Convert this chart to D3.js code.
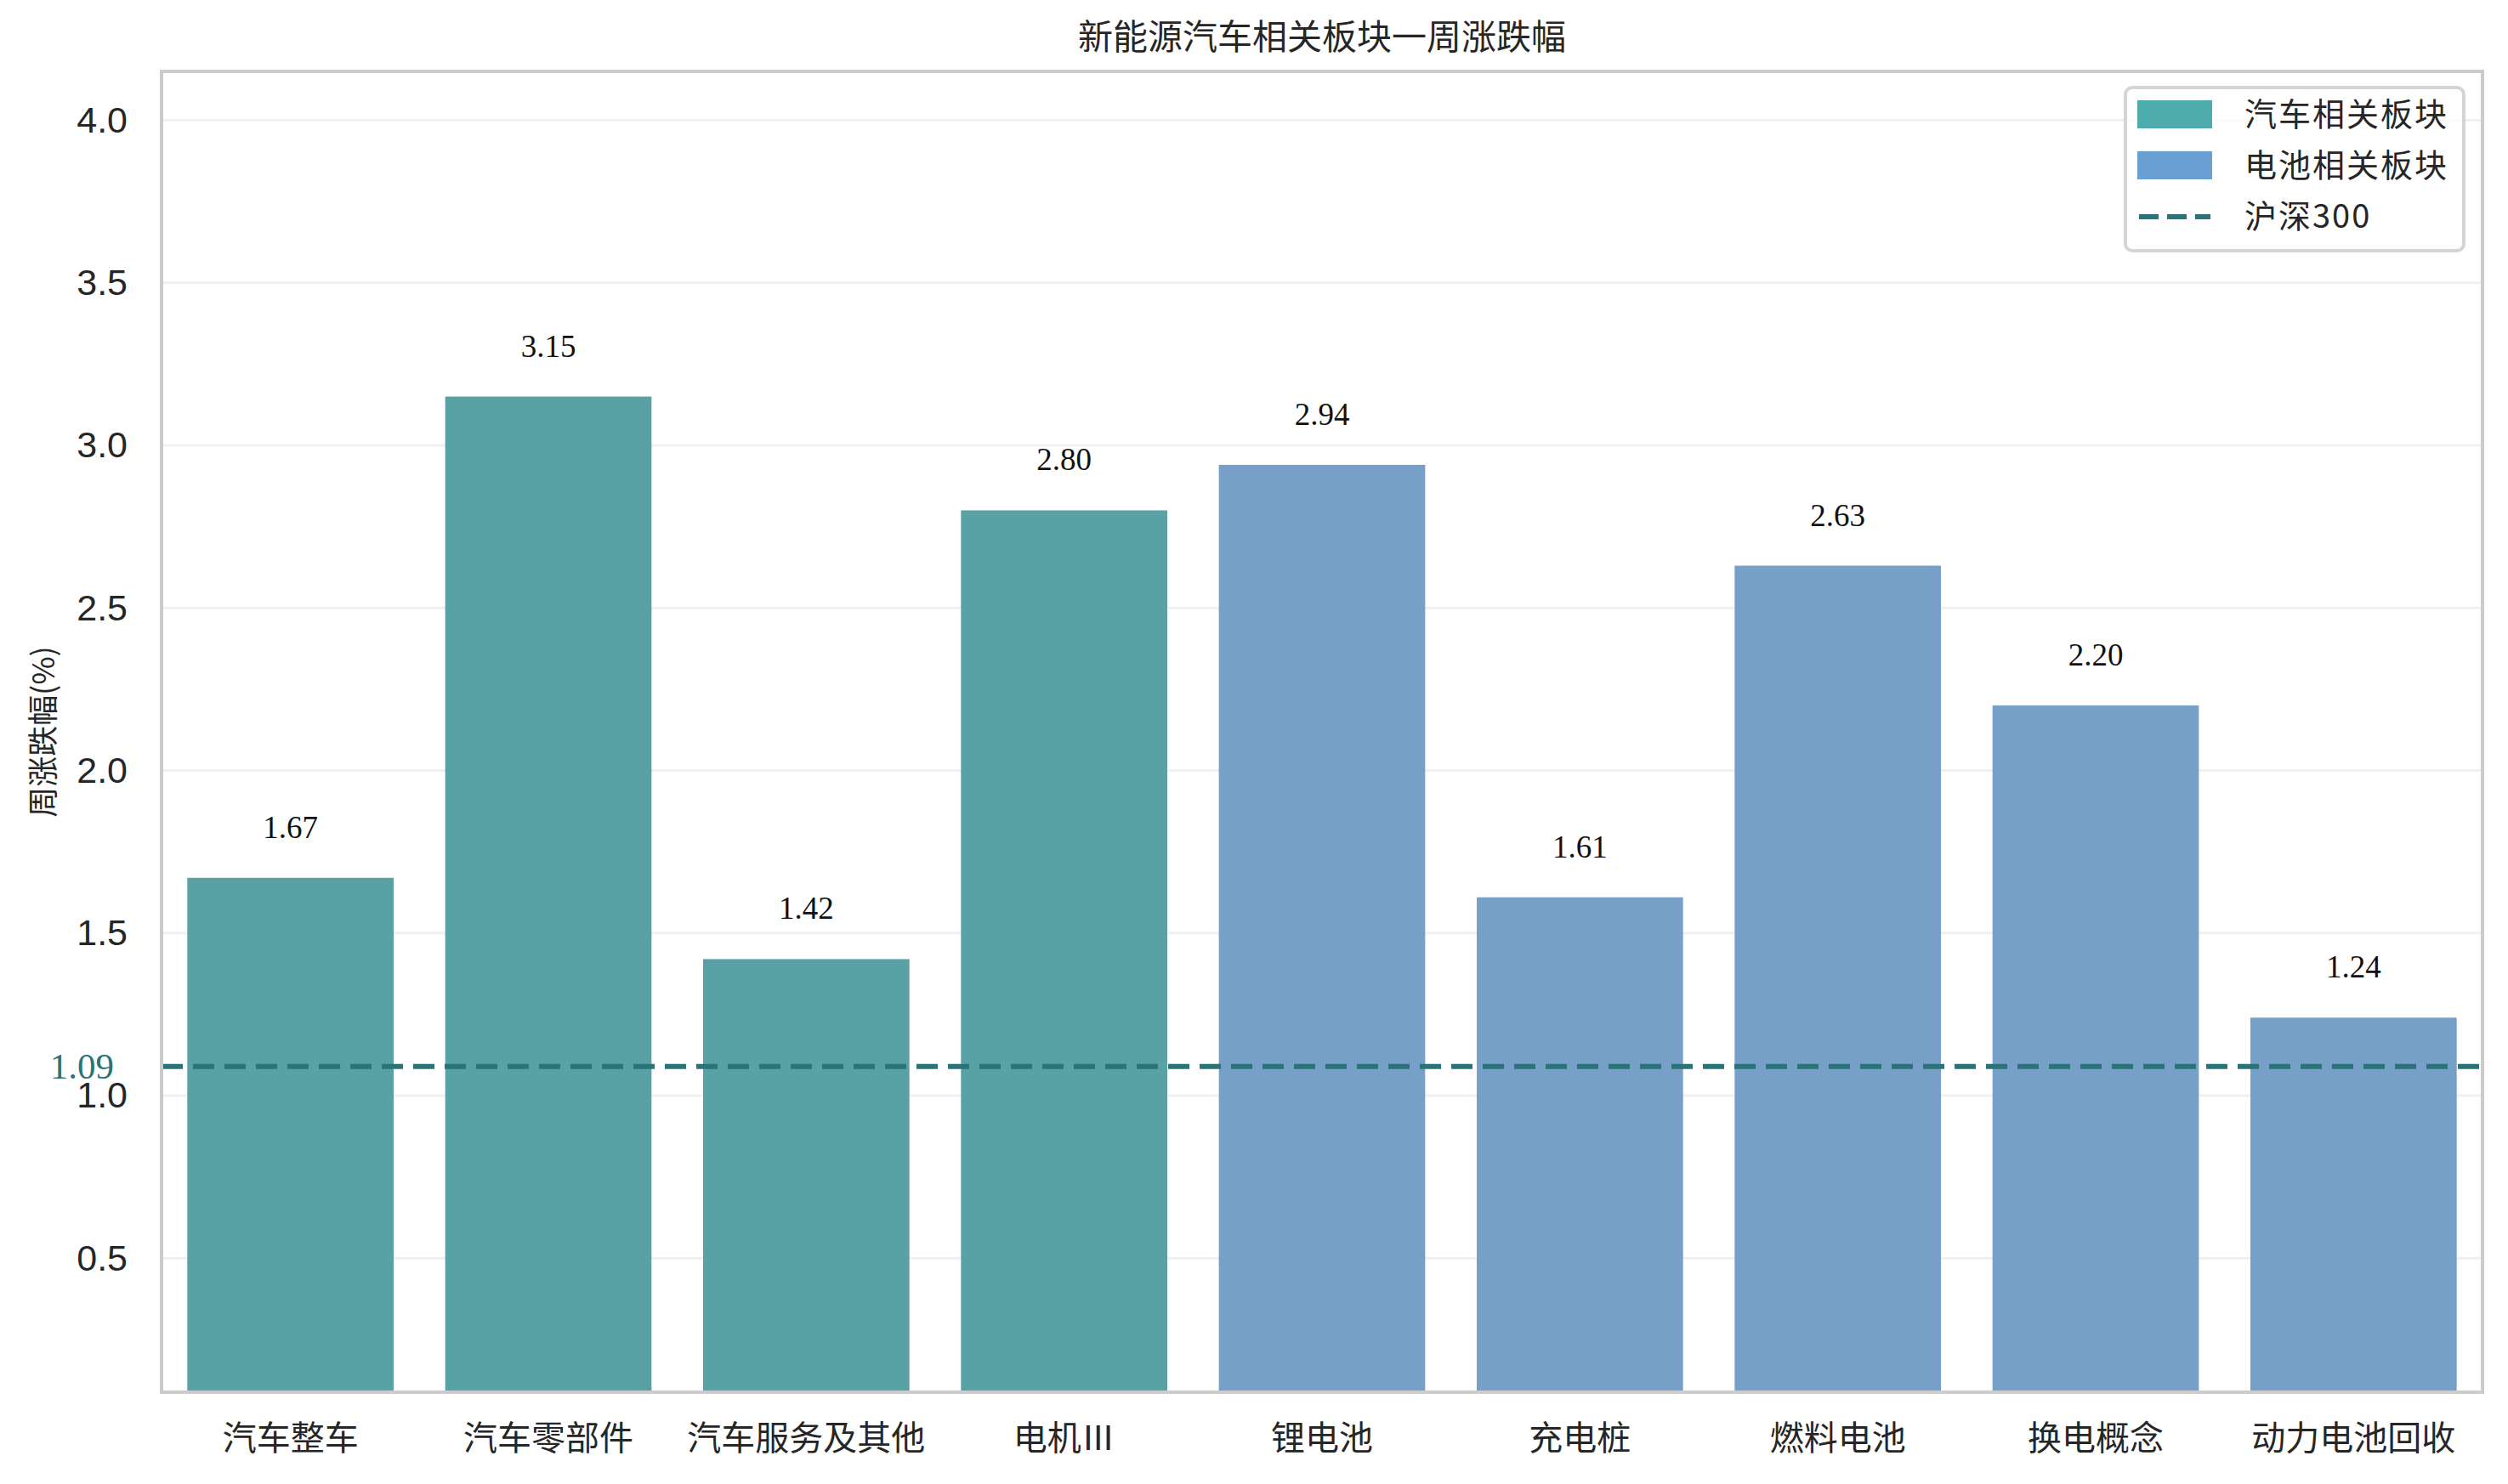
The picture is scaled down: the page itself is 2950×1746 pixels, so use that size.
<!DOCTYPE html>
<html>
<head>
<meta charset="utf-8">
<script src="https://cdn.jsdelivr.net/npm/d3@7"></script>
<style>
  html, body { margin: 0; padding: 0; background: #fff; overflow: hidden; }
  svg { display: block; }
</style>
</head>
<body>
<svg id="chart" width="2950" height="1746"></svg>
<script>
// data
const categories = ["汽车整车", "汽车零部件", "汽车服务及其他", "电机Ⅲ", "锂电池", "充电桩", "燃料电池", "换电概念", "动力电池回收"];
const values = [1.67, 3.15, 1.42, 2.80, 2.94, 1.61, 2.63, 2.20, 1.24];
const groups = ["car", "car", "car", "car", "battery", "battery", "battery", "battery", "battery"];
const baseline = 1.09;
const yTicks = [0.5, 1.0, 1.5, 2.0, 2.5, 3.0, 3.5, 4.0];
const legendLabels = ["汽车相关板块", "电池相关板块", "沪深300"];

const barColor = { car: "#5AA1A5", battery: "#76A0C8" };
const legendColor = { car: "#4FACAC", battery: "#6A9FD3" };
const lineColor = "#2A7478";
const serif = "'Liberation Serif', serif";
const cjk = "'Noto Sans CJK SC', sans-serif";
const sans = "'Liberation Sans', Arial, sans-serif";

const svg = d3.select("#chart");
const margin = { top: 84, right: 30, bottom: 108, left: 190 };
const width = +svg.attr("width");
const height = +svg.attr("height");
const innerWidth = width - margin.left - margin.right;
const innerHeight = height - margin.top - margin.bottom;

const x = d3.scaleBand()
  .domain(categories)
  .range([0, innerWidth])
  .paddingInner(0.2)
  .paddingOuter(0.1);

const y = d3.scaleLinear()
  .domain([0.088, 4.15])
  .range([innerHeight, 0]);

const g = svg.append("g")
  .attr("transform", `translate(${margin.left},${margin.top})`);

// grid
g.selectAll("line.grid")
  .data(yTicks)
  .enter()
  .append("line")
  .attr("class", "grid")
  .attr("x1", 0)
  .attr("x2", innerWidth)
  .attr("y1", (d) => y(d))
  .attr("y2", (d) => y(d))
  .attr("stroke", "#F0F0F0")
  .attr("stroke-width", 3);

// bars
g.selectAll("rect.bar")
  .data(values)
  .enter()
  .append("rect")
  .attr("class", "bar")
  .attr("x", (d, i) => x(categories[i]))
  .attr("width", x.bandwidth())
  .attr("y", (d) => y(d))
  .attr("height", (d) => innerHeight - y(d))
  .attr("fill", (d, i) => barColor[groups[i]]);

// value labels
g.selectAll("text.value")
  .data(values)
  .enter()
  .append("text")
  .attr("class", "value")
  .attr("x", (d, i) => x(categories[i]) + x.bandwidth() / 2)
  .attr("y", (d) => y(d) - 47)
  .attr("text-anchor", "middle")
  .style("font-family", serif)
  .style("font-size", "37px")
  .attr("fill", "#111")
  .text((d) => d.toFixed(2));

// hs300 line
g.append("line")
  .attr("x1", 0)
  .attr("x2", innerWidth)
  .attr("y1", y(baseline))
  .attr("y2", y(baseline))
  .attr("stroke", lineColor)
  .attr("stroke-width", 6)
  .attr("stroke-dasharray", "25,12");

g.append("text")
  .attr("x", -56)
  .attr("y", y(baseline) + 14)
  .attr("text-anchor", "end")
  .style("font-family", serif)
  .style("font-size", "43px")
  .attr("fill", lineColor)
  .text(baseline.toFixed(2));

// y axis
const yAxis = d3.axisLeft(y).tickValues(yTicks).tickSize(0).tickPadding(40)
  .tickFormat(d3.format(".1f"));
const yAxisG = g.append("g").call(yAxis);
yAxisG.select(".domain").remove();
yAxisG.selectAll("text")
  .style("font-family", sans)
  .style("font-size", "43px")
  .attr("fill", "#262626");

// x axis
const xAxis = d3.axisBottom(x).tickSize(0).tickPadding(40);
const xAxisG = g.append("g")
  .attr("transform", `translate(0,${innerHeight})`)
  .call(xAxis);
xAxisG.select(".domain").remove();
xAxisG.selectAll("text")
  .style("font-family", cjk)
  .style("font-size", "40px")
  .attr("fill", "#262626");

// frame
g.append("rect")
  .attr("x", 0)
  .attr("y", 0)
  .attr("width", innerWidth)
  .attr("height", innerHeight)
  .attr("fill", "none")
  .attr("stroke", "#CCCCCC")
  .attr("stroke-width", 4);

// y title
svg.append("text")
  .attr("transform", `translate(64,${margin.top + innerHeight / 2}) rotate(-90)`)
  .attr("text-anchor", "middle")
  .style("font-family", cjk)
  .style("font-size", "36px")
  .attr("fill", "#262626")
  .text("周涨跌幅(%)");

// title
svg.append("text")
  .attr("x", margin.left + innerWidth / 2)
  .attr("y", 58)
  .attr("text-anchor", "middle")
  .style("font-family", cjk)
  .style("font-size", "41px")
  .attr("fill", "#262626")
  .text("新能源汽车相关板块一周涨跌幅");

// legend
const lg = svg.append("g").attr("transform", "translate(2500,103)");
lg.append("rect")
  .attr("width", 398)
  .attr("height", 192)
  .attr("rx", 8)
  .attr("fill", "#fff")
  .attr("fill-opacity", 0.8)
  .attr("stroke", "#D5D5D5")
  .attr("stroke-width", 4);

const keys = ["car", "battery"];
lg.selectAll("rect.key")
  .data(keys)
  .enter()
  .append("rect")
  .attr("class", "key")
  .attr("x", 14)
  .attr("y", (d, i) => 15 + i * 60)
  .attr("width", 88)
  .attr("height", 33)
  .attr("fill", (d) => legendColor[d]);

lg.append("line")
  .attr("x1", 16)
  .attr("x2", 100)
  .attr("y1", 152)
  .attr("y2", 152)
  .attr("stroke", lineColor)
  .attr("stroke-width", 6)
  .attr("stroke-dasharray", "23,10");

lg.selectAll("text.lab")
  .data(legendLabels)
  .enter()
  .append("text")
  .attr("class", "lab")
  .attr("x", 140)
  .attr("y", (d, i) => 45 + i * 60)
  .style("font-family", cjk)
  .style("font-size", "38px")
  .attr("letter-spacing", 2)
  .attr("fill", "#262626")
  .text((d) => d);
</script>
</body>
</html>
